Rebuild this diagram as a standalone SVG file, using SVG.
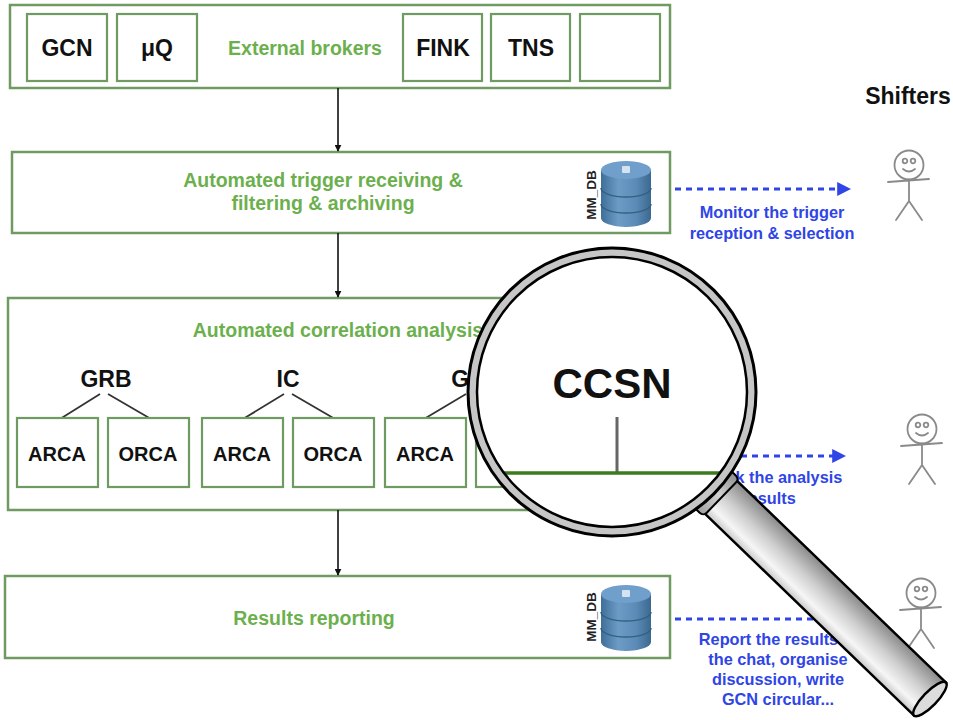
<svg xmlns="http://www.w3.org/2000/svg" width="953" height="720" viewBox="0 0 953 720">
  <style>
    .box { fill: #ffffff; stroke: #6f9a62; stroke-width: 2.5; }
    .ibox { fill: #ffffff; stroke: #6f9a62; stroke-width: 2.2; }
    .lbl { font-family: "Liberation Sans", Arial, sans-serif; font-weight: bold; fill: #111; text-anchor: middle; }
    .grn { font-family: "Liberation Sans", Arial, sans-serif; font-weight: bold; fill: #6cb04e; text-anchor: middle; font-size: 19.5px; }
    .blu { font-family: "Liberation Sans", Arial, sans-serif; font-weight: bold; fill: #2f45e6; text-anchor: middle; font-size: 16.3px; }
    .flow { stroke: #111; stroke-width: 1.6; fill: none; marker-end: url(#blk); }
    .dash { stroke: #2f45e6; stroke-width: 3; stroke-dasharray: 6 5; fill: none; marker-end: url(#bluTip); }
    .tree { stroke: #333; stroke-width: 1.8; fill: none; }
    .man { stroke: #8a8a8a; stroke-width: 1.8; fill: none; stroke-linecap: round; }
    .db { font-family: "Liberation Sans", Arial, sans-serif; font-weight: bold; fill: #222; font-size: 13.5px; text-anchor: middle; }
  </style>
  <defs>
    <marker id="blk" viewBox="0 0 10 10" refX="9" refY="5" markerWidth="7" markerHeight="7" markerUnits="userSpaceOnUse" orient="auto">
      <path d="M0,0 L10,5 L0,10 z" fill="#111"/>
    </marker>
    <marker id="bluTip" viewBox="0 0 10 10" refX="2" refY="5" markerWidth="14" markerHeight="14" markerUnits="userSpaceOnUse" orient="auto">
      <path d="M0,0 L10,5 L0,10 z" fill="#2f45e6"/>
    </marker>
    <linearGradient id="cyl" x1="0" y1="0" x2="1" y2="0">
      <stop offset="0" stop-color="#3f6f99"/>
      <stop offset="0.35" stop-color="#6c9cc6"/>
      <stop offset="0.7" stop-color="#5b8bb6"/>
      <stop offset="1" stop-color="#3c6890"/>
    </linearGradient>
    <linearGradient id="hdl" x1="0" y1="0" x2="0" y2="1">
      <stop offset="0" stop-color="#8a8a8a"/>
      <stop offset="0.45" stop-color="#cfcfcf"/>
      <stop offset="0.8" stop-color="#f6f6f6"/>
      <stop offset="1" stop-color="#c8c8c8"/>
    </linearGradient>
    <linearGradient id="col" x1="0" y1="0" x2="0" y2="1">
      <stop offset="0" stop-color="#8e8e8e"/>
      <stop offset="0.5" stop-color="#d2d2d2"/>
      <stop offset="1" stop-color="#a0a0a0"/>
    </linearGradient>
    <!-- stacked-disk database icon, 50 wide -->
    <g id="database">
      <path d="M0,9 L0,57 A25,9 0 0 0 50,57 L50,9 z" fill="url(#cyl)"/>
      <path d="M0,27 A25,9 0 0 0 50,27" fill="none" stroke="#34607f" stroke-width="1.5"/>
      <path d="M0,43 A25,9 0 0 0 50,43" fill="none" stroke="#34607f" stroke-width="1.5"/>
      <ellipse cx="25" cy="9" rx="25" ry="9" fill="#6f9fca"/>
      <rect x="21" y="5" width="8" height="7" fill="#e6eef6" opacity="0.85" rx="1"/>
    </g>
    <g id="stickman">
      <circle cx="0" cy="0" r="14.5" class="man"/>
      <circle cx="-4" cy="-4" r="2.3" class="man" stroke-width="1.3"/>
      <circle cx="4" cy="-4" r="2.3" class="man" stroke-width="1.3"/>
      <path d="M-6,4 Q0,9 6,4" class="man" stroke-width="1.4"/>
      <path d="M0,14.5 L0,36 M-21,17 L20,14 M0,36 L-13,55 M0,36 L13,55" class="man"/>
    </g>
    <clipPath id="glass">
      <circle cx="612" cy="392" r="135"/>
    </clipPath>
  </defs>

  <rect width="953" height="720" fill="#ffffff"/>

  <!-- external brokers -->
  <g id="brokers">
    <rect class="box" x="10" y="5" width="660" height="83"/>
    <rect class="ibox" x="27" y="14" width="80" height="67"/>
    <text class="lbl" x="67" y="56" font-size="23">GCN</text>
    <rect class="ibox" x="117" y="14" width="80" height="67"/>
    <text class="lbl" x="157" y="56" font-size="23">μQ</text>
    <text class="grn" x="305" y="55">External brokers</text>
    <rect class="ibox" x="403" y="14" width="79" height="67"/>
    <text class="lbl" x="443" y="56" font-size="23">FINK</text>
    <rect class="ibox" x="491" y="14" width="79" height="67"/>
    <text class="lbl" x="531" y="56" font-size="23">TNS</text>
    <rect class="ibox" x="580" y="14" width="80" height="67"/>
  </g>

  <!-- trigger receiving -->
  <g id="receiving">
    <rect class="box" x="12" y="152" width="658" height="81"/>
    <text class="grn" x="323" y="187">Automated trigger receiving &amp;</text>
    <text class="grn" x="323" y="210">filtering &amp; archiving</text>
    <use href="#database" x="601" y="161"/>
    <text class="db" transform="translate(596,195) rotate(-90)">MM_DB</text>
  </g>

  <!-- correlation analysis -->
  <g id="correlation">
    <rect class="box" x="8" y="298" width="662" height="212"/>
    <text class="grn" x="338" y="337">Automated correlation analysis</text>
    <text class="lbl" x="106" y="387" font-size="23">GRB</text>
    <text class="lbl" x="288" y="387" font-size="23">IC</text>
    <text class="lbl" x="471" y="387" font-size="23">GW</text>
    <g class="tree-lines">
      <path class="tree" d="M100,394 L60,419 M108,394 L151,419"/>
      <path class="tree" d="M284,394 L243,419 M292,394 L335,419"/>
      <path class="tree" d="M466,394 L424,419 M474,394 L517,419"/>
    </g>
    <rect class="ibox" x="17" y="418" width="81" height="69"/>
    <text class="lbl" x="57" y="461" font-size="20">ARCA</text>
    <rect class="ibox" x="108" y="418" width="81" height="69"/>
    <text class="lbl" x="148" y="461" font-size="20">ORCA</text>
    <rect class="ibox" x="202" y="418" width="81" height="69"/>
    <text class="lbl" x="242" y="461" font-size="20">ARCA</text>
    <rect class="ibox" x="293" y="418" width="81" height="69"/>
    <text class="lbl" x="333" y="461" font-size="20">ORCA</text>
    <rect class="ibox" x="385" y="418" width="81" height="69"/>
    <text class="lbl" x="425" y="461" font-size="20">ARCA</text>
    <rect class="ibox" x="476" y="418" width="81" height="69"/>
    <text class="lbl" x="516" y="461" font-size="20">ORCA</text>
  </g>

  <!-- results reporting -->
  <g id="reporting">
    <rect class="box" x="5" y="576" width="665" height="82"/>
    <text class="grn" x="314" y="625">Results reporting</text>
    <use href="#database" x="601" y="585"/>
    <text class="db" transform="translate(596,617) rotate(-90)">MM_DB</text>
  </g>

  <!-- shifters -->
  <g id="shifters">
    <text class="lbl" x="908" y="104" font-size="23">Shifters</text>
    <use href="#stickman" x="909" y="165"/>
    <use href="#stickman" x="922" y="429"/>
    <use href="#stickman" x="921" y="593"/>
  </g>

  <!-- connectors -->
  <g id="connectors">
    <path class="flow" d="M338,88 L338,151"/>
    <path class="flow" d="M338,233 L338,297"/>
    <path class="flow" d="M338,510 L338,575"/>
    <path class="dash" d="M675,189 L840,189"/>
    <text class="blu" x="772" y="218">Monitor the trigger</text>
    <text class="blu" x="772" y="239">reception &amp; selection</text>
    <path class="dash" d="M675,456 L835,456"/>
    <text class="blu" x="769" y="483">Check the analysis</text>
    <text class="blu" x="769" y="504">results</text>
    <path class="dash" d="M675,619 L850,619"/>
    <text class="blu" x="778" y="645">Report the results in</text>
    <text class="blu" x="778" y="665">the chat, organise</text>
    <text class="blu" x="778" y="685">discussion, write</text>
    <text class="blu" x="778" y="705">GCN circular...</text>
  </g>

  <!-- magnifying glass: handle drawn along the +x axis, then rotated -->
  <g id="magnifier">
    <g transform="translate(612,392) rotate(44)">
      <rect x="150" y="-23" width="292" height="46" fill="url(#hdl)" stroke="#000" stroke-width="2.5"/>
      <ellipse cx="442" cy="0" rx="7" ry="23" fill="#dcdcdc" stroke="#000" stroke-width="2.5"/>
      <rect x="131" y="-26" width="21" height="52" rx="5" fill="url(#col)" stroke="#000" stroke-width="2"/>
    </g>
    <circle cx="612" cy="392" r="135" fill="#ffffff"/>
    <g clip-path="url(#glass)">
      <text class="lbl" x="612" y="398" font-size="42">CCSN</text>
      <path d="M617,417 L617,473" stroke="#666" stroke-width="3"/>
      <path d="M470,473 L760,473" stroke="#3c7a1e" stroke-width="3.5"/>
    </g>
    <circle cx="612" cy="392" r="139.5" fill="none" stroke="#c6c6c6" stroke-width="9"/>
    <circle cx="612" cy="392" r="144" fill="none" stroke="#000" stroke-width="3"/>
    <circle cx="612" cy="392" r="135" fill="none" stroke="#000" stroke-width="2.5"/>
  </g>
</svg>
